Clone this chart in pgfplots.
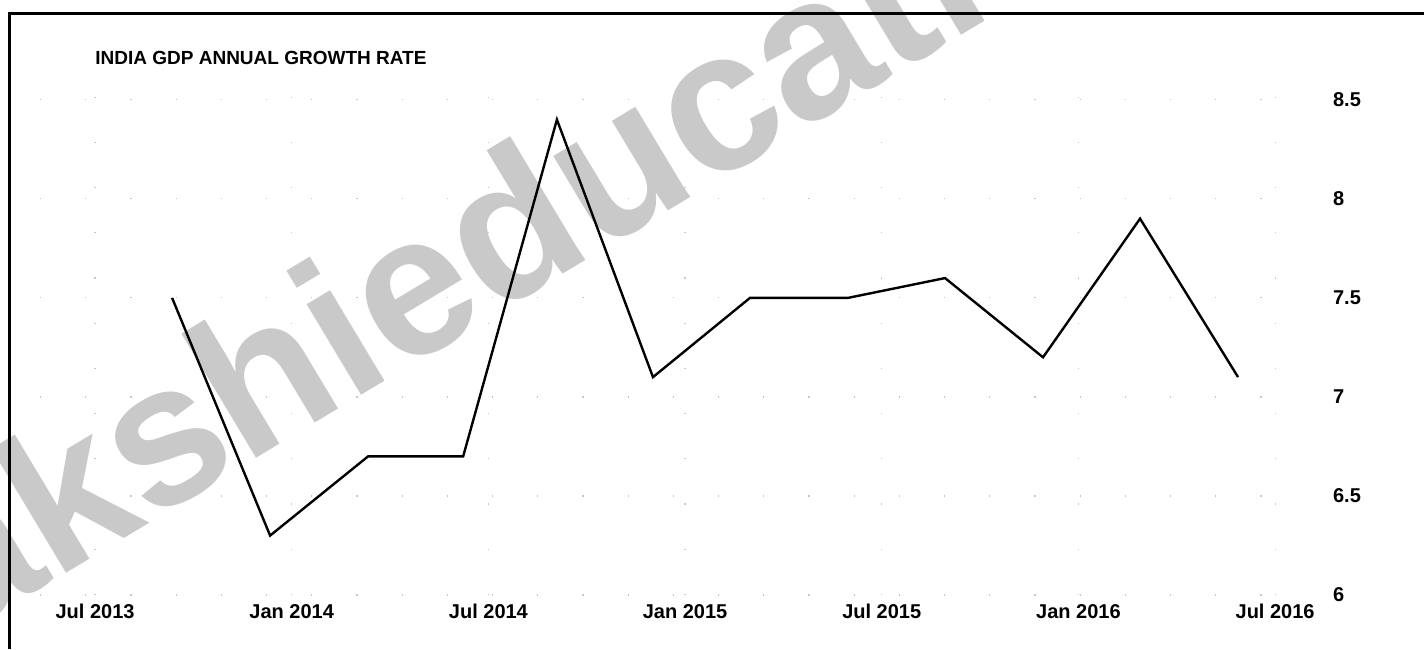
\documentclass[border=0pt]{standalone}
\usepackage{fontspec}
\setmainfont{Liberation Sans}
\usepackage{pgfplots}
\pgfplotsset{compat=1.18}

\begin{document}
\begin{tikzpicture}[x=1pt,y=1pt]
% page = 1424x649 px at 0.5pt per px
\useasboundingbox (0,0) rectangle (712,324.5);

% watermark
\begin{scope}
\clip (0,0) rectangle (712,324.5);
\node[rotate=31, anchor=base west, inner sep=0, text=black!21,
      font=\fontsize{100}{100}\selectfont\bfseries] at (-77.9,-28.7) {Sakshieducation};
\end{scope}

% frame
\draw[line width=1.5pt] (4.5,0) -- (4.5,317.5) -- (712,317.5);

% title
\node[anchor=west, inner sep=0, font=\fontsize{9.5}{11}\selectfont\bfseries] at (47.5,295.5) {INDIA GDP ANNUAL GROWTH RATE};

% months counted from Jul 2013
\begin{axis}[
at={(20pt,27pt)}, anchor=south west,
scale only axis,
width=630pt, height=257.5pt,
xmin=-1.68, xmax=36.76,
ymin=6, ymax=8.6,
axis line style={draw=none},
tick style={draw=none},
xtick={0,6,12,18,24,30,36},
xticklabels={Jul 2013,Jan 2014,Jul 2014,Jan 2015,Jul 2015,Jan 2016,Jul 2016},
ytick={6,6.5,7,7.5,8,8.5},
yticklabel pos=right,
yticklabel style={anchor=west, xshift=13pt},
xticklabel style={yshift=-1pt},
ticklabel style={font=\fontsize{10}{12}\selectfont\bfseries},
/pgf/number format/assume math mode=true,
xmajorgrids, ymajorgrids,
grid style={black!22, line width=0.6pt, dash pattern=on 0.6pt off 22pt},
]
\addplot[black, line width=1.2pt, mark=none] coordinates {
(2.35,7.5) (5.34,6.3) (8.33,6.7) (11.23,6.7) (14.09,8.4) (17.02,7.1)
(19.98,7.5) (22.97,7.5) (25.93,7.6) (28.92,7.2) (31.88,7.9) (34.87,7.1)
};
\end{axis}
\end{tikzpicture}
\end{document}
